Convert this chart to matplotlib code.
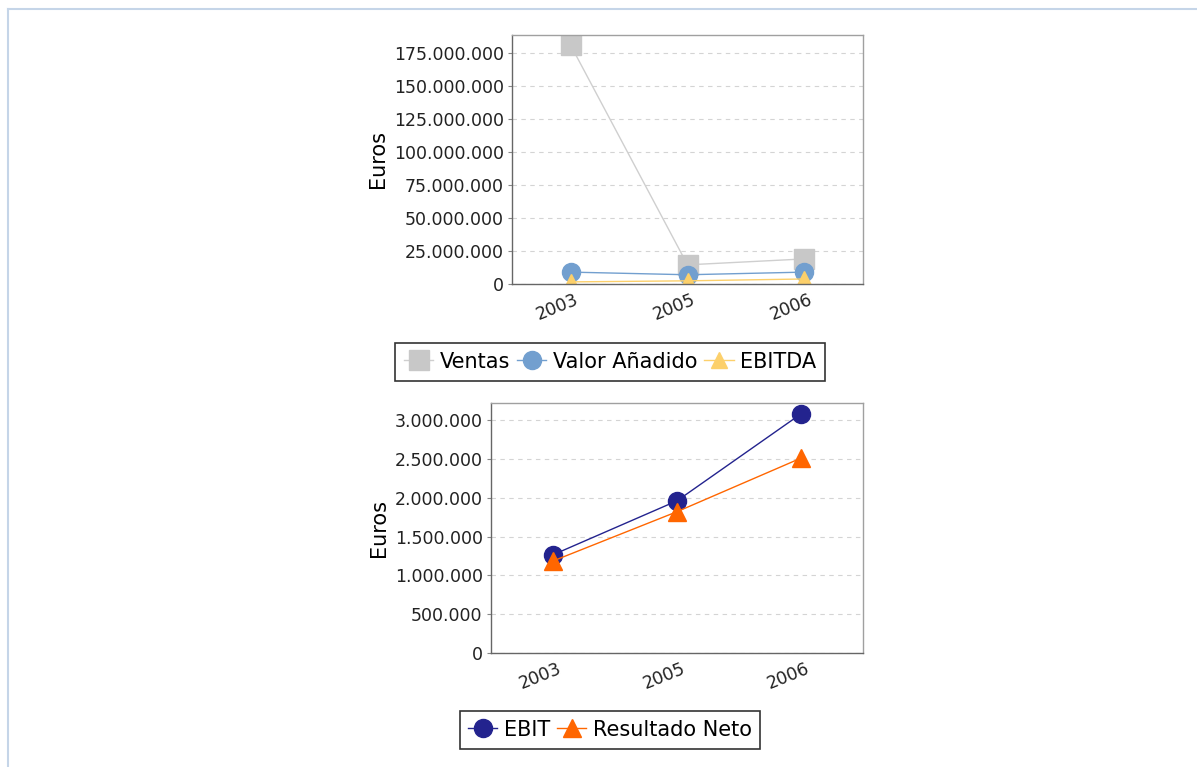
import matplotlib
matplotlib.use("Agg")
import matplotlib.pyplot as plt
from matplotlib.lines import Line2D
from matplotlib.ticker import FuncFormatter, MultipleLocator
from matplotlib.transforms import ScaledTranslation

years = ["2003", "2005", "2006"]

ventas = [181000000, 14500000, 19000000]
valor_anadido = [9000000, 7000000, 9000000]
ebitda = [1600000, 2400000, 3800000]

ebit = [1265000, 1960000, 3080000]
resultado_neto = [1185000, 1820000, 2510000]

W, H = 1197, 767


def miles(v, pos):
    return "{:,.0f}".format(v).replace(",", ".")


def px_axes(fig, left, top, right, bottom):
    return fig.add_axes([left / W, 1 - bottom / H, (right - left) / W, (bottom - top) / H])


def style_axes(ax, ymax, step):
    ax.set_xlim(-0.5, 2.5)
    ax.set_ylim(0, ymax)
    ax.yaxis.set_major_locator(MultipleLocator(step))
    ax.yaxis.set_major_formatter(FuncFormatter(miles))
    ax.set_xticks(range(len(years)))
    ax.set_xticklabels(years, rotation=22, fontsize=12.5)
    ax.tick_params(axis="y", labelsize=12.5, length=3, color="#888888", pad=3,
                   labelcolor="#222222")
    ax.tick_params(axis="x", length=0, pad=5, labelcolor="#222222")
    # labels sit a bit left of their tick, as in the original
    shift = ScaledTranslation(-13 / 100, 0, fig.dpi_scale_trans)
    for lbl in ax.get_xticklabels():
        lbl.set_transform(lbl.get_transform() + shift)
    ax.grid(axis="y", linestyle=(0, (4, 4)), color="#d4d4d4", linewidth=0.8)
    ax.set_axisbelow(True)
    for s in ax.spines.values():
        s.set_color("#a0a0a0")
        s.set_linewidth(1)
    ax.spines["left"].set_color("#666666")
    ax.spines["bottom"].set_color("#666666")
    ax.set_ylabel("Euros", fontsize=15, labelpad=4)


def add_legend(ax, top_px):
    leg = ax.legend(loc="upper center", bbox_to_anchor=(610 / W, 1 - top_px / H),
                    bbox_transform=fig.transFigure, ncol=3, fontsize=15,
                    frameon=True, fancybox=False, handlelength=1.4, handletextpad=0.3,
                    columnspacing=0.35, borderpad=0.42, borderaxespad=0, edgecolor="black")
    leg.get_frame().set_linewidth(1.2)
    return leg


fig = plt.figure(figsize=(W / 100, H / 100), dpi=100)
fig.patch.set_facecolor("white")

# page frame
fig.add_artist(Line2D([8 / W, 1], [1 - 9 / H, 1 - 9 / H], color="#c5d5e8", linewidth=1.5))
fig.add_artist(Line2D([8 / W, 8 / W], [1 - 9 / H, 0], color="#c5d5e8", linewidth=1.5))

# top chart
ax1 = px_axes(fig, 512, 35, 863, 284)
x = range(len(years))
ax1.plot(x, ventas, color="#cfcfcf", linewidth=1, marker="s", markersize=14,
         markerfacecolor="#c8c8c8", markeredgecolor="#c8c8c8", label="Ventas")
ax1.plot(x, valor_anadido, color="#729fcf", linewidth=1, marker="o", markersize=13,
         markeredgecolor="#729fcf", label="Valor Añadido")
ax1.plot(x, ebitda, color="#fcd06b", linewidth=1, marker="^", markersize=12,
         markeredgecolor="#fcd06b", label="EBITDA")
style_axes(ax1, 188500000, 25000000)
add_legend(ax1, 343)

# bottom chart
ax2 = px_axes(fig, 491, 403, 863, 653)
ax2.plot(x, ebit, color="#23238e", linewidth=1, marker="o", markersize=13,
         markeredgecolor="#23238e", label="EBIT")
ax2.plot(x, resultado_neto, color="#ff6600", linewidth=1, marker="^", markersize=13,
         markeredgecolor="#ff6600", label="Resultado Neto")
style_axes(ax2, 3220000, 500000)
add_legend(ax2, 711)

fig.savefig("out.png", dpi=100, facecolor="white")
